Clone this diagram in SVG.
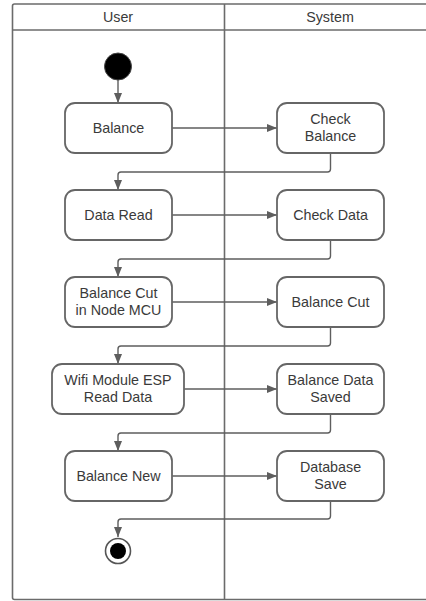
<svg xmlns="http://www.w3.org/2000/svg" width="426" height="601" viewBox="0 0 426 601">
<defs>
<style>
.frame{fill:none;stroke:#6b6b6b;stroke-width:1.6}
.box{fill:#fff;stroke:#666;stroke-width:1.8}
.t{font-family:"Liberation Sans",Arial,sans-serif;font-size:14.3px;fill:#3a3a3a;text-anchor:middle}
.c{fill:none;stroke:#5e5e5e;stroke-width:1.4}
</style>
<marker id="ah" viewBox="0 0 10 8" refX="10" refY="4" markerWidth="10" markerHeight="8" markerUnits="userSpaceOnUse" orient="auto">
<path d="M0,0 L10,4 L0,8 Z" fill="#5e5e5e"/>
</marker>
</defs>
<rect width="426" height="601" fill="#fff"/>
<g id="swimlanes">
<rect class="frame" x="12.5" y="4" width="420" height="595.5" rx="2"/>
<line class="frame" x1="12.5" y1="30" x2="426" y2="30"/>
<line class="frame" x1="224.5" y1="4" x2="224.5" y2="600"/>
<text class="t" x="118" y="22">User</text>
<text class="t" x="330" y="22">System</text>
</g>
<g id="connectors">
<path class="c" d="M118,80 V103" marker-end="url(#ah)"/>
<path class="c" d="M172,128 H277" marker-end="url(#ah)"/>
<path class="c" d="M330.5,153 V169 Q330.5,172 327.5,172 H121 Q118,172 118,175 V190" marker-end="url(#ah)"/>
<path class="c" d="M172,215 H277" marker-end="url(#ah)"/>
<path class="c" d="M330.5,240 V256 Q330.5,259 327.5,259 H121 Q118,259 118,262 V277" marker-end="url(#ah)"/>
<path class="c" d="M172,302 H277" marker-end="url(#ah)"/>
<path class="c" d="M330.5,327 V343 Q330.5,346 327.5,346 H121 Q118,346 118,349 V364" marker-end="url(#ah)"/>
<path class="c" d="M184,389 H277" marker-end="url(#ah)"/>
<path class="c" d="M330.5,414 V430 Q330.5,433 327.5,433 H121 Q118,433 118,436 V451" marker-end="url(#ah)"/>
<path class="c" d="M172,476 H277" marker-end="url(#ah)"/>
<path class="c" d="M330.5,501 V516 Q330.5,519 327.5,519 H121 Q118,519 118,522 V537" marker-end="url(#ah)"/>
</g>
<g id="start">
<circle cx="118" cy="66.5" r="13.5" fill="#000" stroke="#444" stroke-width="1"/>
</g>
<g id="n-balance">
<rect class="box" x="65" y="103" width="107" height="50" rx="10"/>
<text class="t" x="118.5" y="133">Balance</text>
</g>
<g id="n-check-balance">
<rect class="box" x="277" y="103" width="107" height="50" rx="10"/>
<text class="t" x="330.5" y="123.5">Check</text>
<text class="t" x="330.5" y="140.5">Balance</text>
</g>
<g id="n-data-read">
<rect class="box" x="65" y="190" width="107" height="50" rx="10"/>
<text class="t" x="118.5" y="220">Data Read</text>
</g>
<g id="n-check-data">
<rect class="box" x="277" y="190" width="107" height="50" rx="10"/>
<text class="t" x="330.5" y="220">Check Data</text>
</g>
<g id="n-balance-cut-node">
<rect class="box" x="65" y="277" width="107" height="50" rx="10"/>
<text class="t" x="118.5" y="297.5">Balance Cut</text>
<text class="t" x="118.5" y="314.5">in Node MCU</text>
</g>
<g id="n-balance-cut">
<rect class="box" x="277" y="277" width="107" height="50" rx="10"/>
<text class="t" x="330.5" y="307">Balance Cut</text>
</g>
<g id="n-wifi">
<rect class="box" x="52" y="364" width="132" height="50" rx="10"/>
<text class="t" x="118" y="384.5">Wifi Module ESP</text>
<text class="t" x="118" y="401.5">Read Data</text>
</g>
<g id="n-balance-data-saved">
<rect class="box" x="277" y="364" width="107" height="50" rx="10"/>
<text class="t" x="330.5" y="384.5">Balance Data</text>
<text class="t" x="330.5" y="401.5">Saved</text>
</g>
<g id="n-balance-new">
<rect class="box" x="65" y="451" width="107" height="50" rx="10"/>
<text class="t" x="118.5" y="481">Balance New</text>
</g>
<g id="n-database-save">
<rect class="box" x="277" y="451" width="107" height="50" rx="10"/>
<text class="t" x="330.5" y="471.5">Database</text>
<text class="t" x="330.5" y="488.5">Save</text>
</g>
<g id="end">
<circle cx="118" cy="551" r="12.5" fill="#fff" stroke="#555" stroke-width="1.6"/>
<circle cx="118" cy="551" r="8" fill="#000"/>
</g>
</svg>
